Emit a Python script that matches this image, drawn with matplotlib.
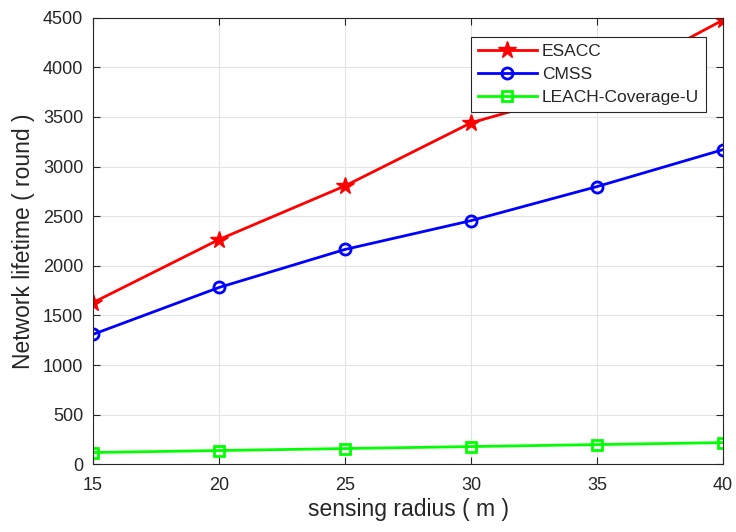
import matplotlib
matplotlib.use('Agg')
import matplotlib.pyplot as plt

plt.rcParams['font.family'] = ['Liberation Sans', 'DejaVu Sans']

# 数据
radius = [15, 20, 25, 30, 35, 40]
esacc = [1630, 2265, 2805, 3440, 3800, 4475]
cmss = [1310, 1782, 2165, 2455, 2798, 3170]
leach = [120, 140, 160, 180, 200, 220]

fig = plt.figure(figsize=(7.36, 5.32), dpi=100)
ax = fig.add_axes([0.1264, 0.127, 0.856, 0.840])

ax.plot(radius, esacc, '-', color='#ff0000', lw=2, marker='*', ms=13, label='ESACC')
ax.plot(radius, cmss, '-', color='#0000ff', lw=2, marker='o', ms=8, mfc='none', mew=2, label='CMSS')
ax.plot(radius, leach, '-', color='#00ff00', lw=2, marker='s', ms=6.5, mfc='none', mew=2, label='LEACH-Coverage-U')

ax.set_xlim(15, 40)
ax.set_ylim(0, 4500)
ax.set_xticks(radius)
ax.set_yticks(range(0, 4501, 500))
ax.grid(True, color='#e3e3e3', lw=0.8)
ax.set_axisbelow(True)
ax.tick_params(direction='in', top=True, right=True, labelsize=13, length=5,
               color='#262626', labelcolor='#262626')
ax.tick_params(axis='x', pad=9)
ax.tick_params(axis='y', pad=7)
for s in ax.spines.values():
    s.set_color('#262626')
    s.set_linewidth(0.8)

ax.set_xlabel('sensing radius ( m )', fontsize=16.5, labelpad=3, color='#262626')
ax.set_ylabel('Network lifetime ( round )', fontsize=16.5, labelpad=6, color='#262626')

leg = ax.legend(loc='upper right', bbox_to_anchor=(0.973, 0.956), fontsize=12.5,
                fancybox=False, framealpha=1, edgecolor='#262626',
                handlelength=3.4, borderpad=0.4, labelspacing=0.45, handletextpad=0.3,
                borderaxespad=0)
leg.get_frame().set_linewidth(0.8)
for t in leg.get_texts():
    t.set_color('#262626')

plt.savefig('out.png', dpi=100)
plt.close()
